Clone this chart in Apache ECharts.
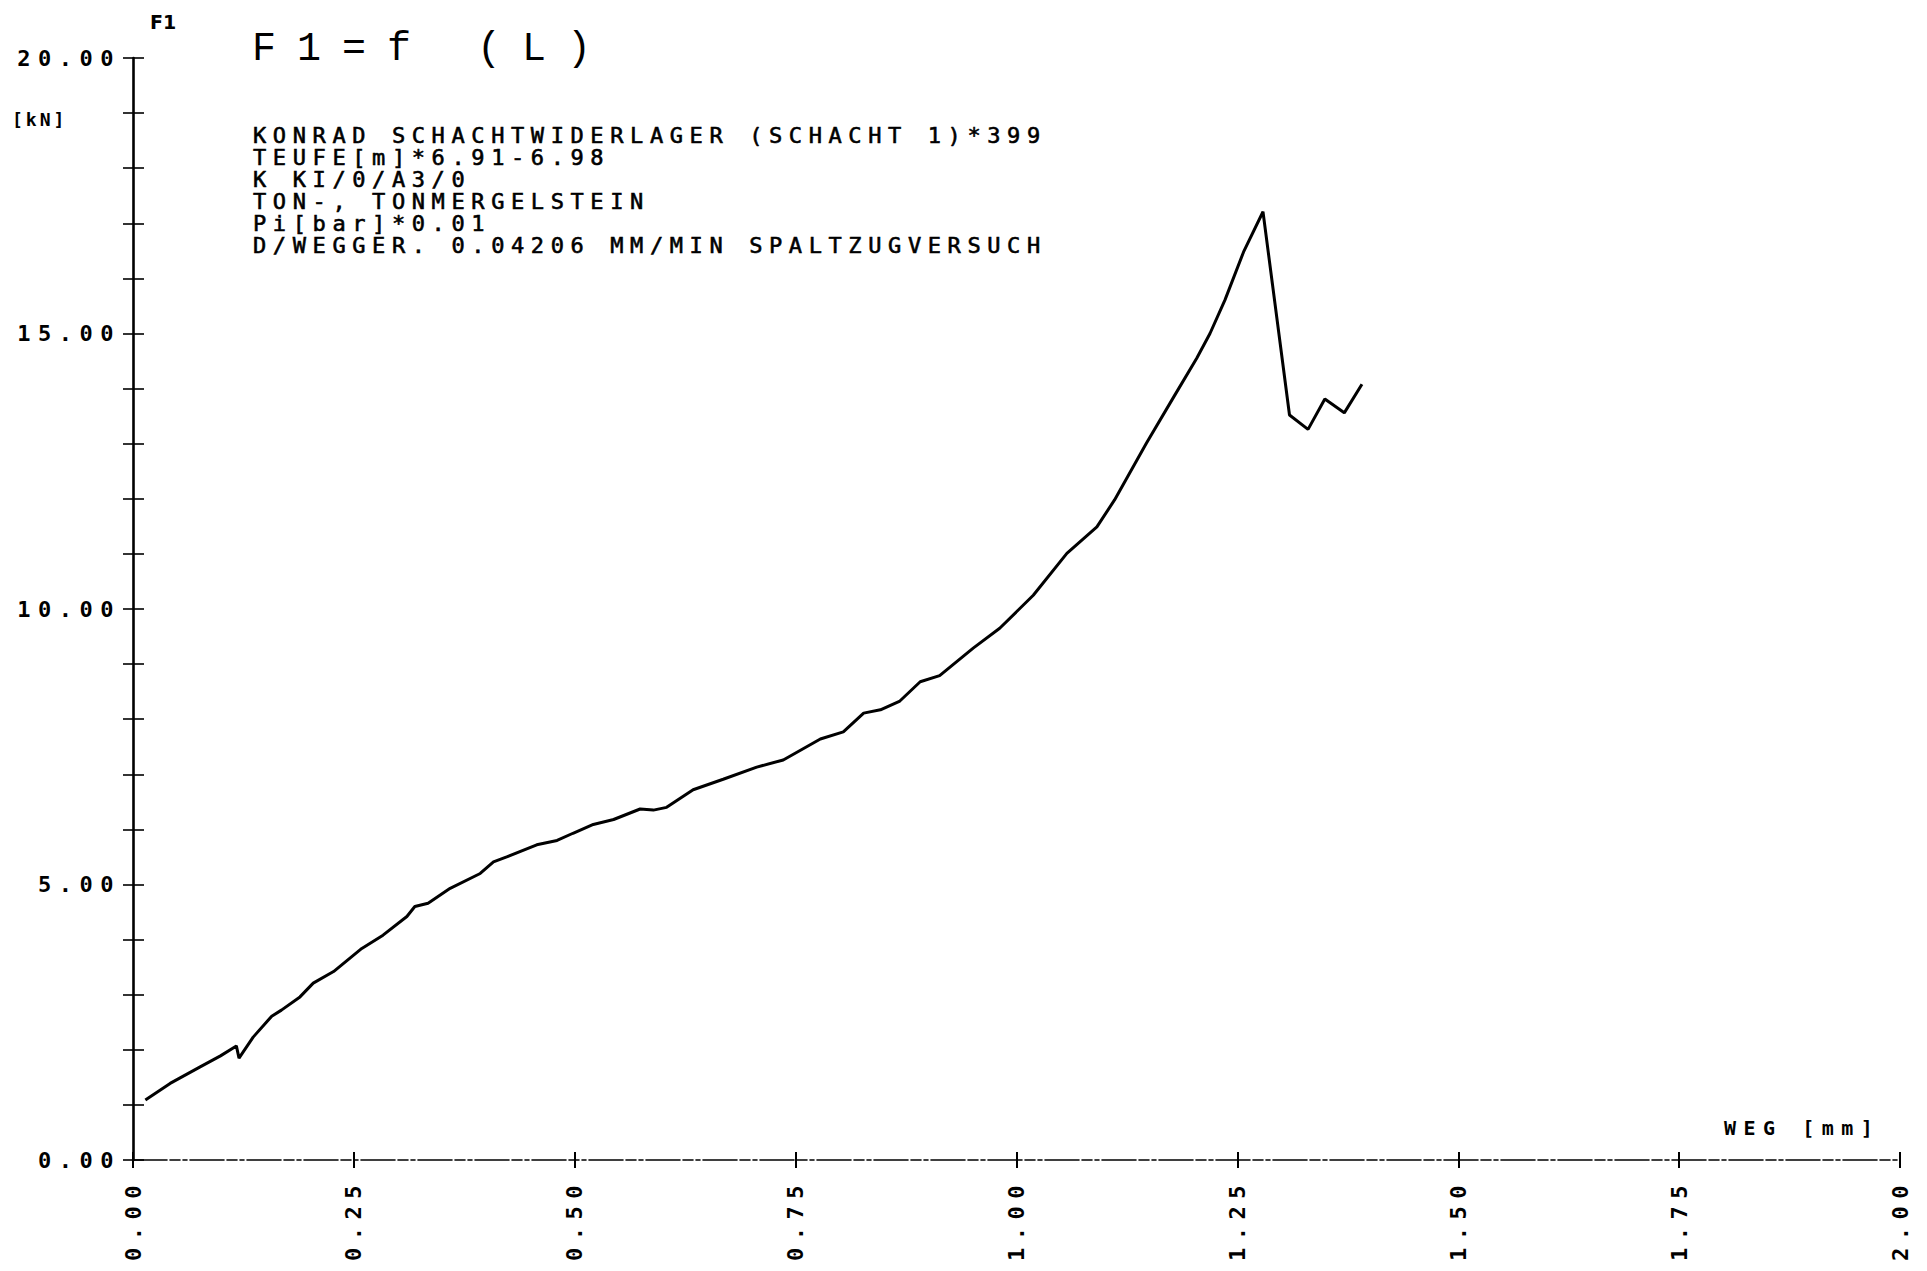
<!DOCTYPE html>
<html>
<head>
<meta charset="utf-8">
<title>F1 = f(L)</title>
<script src="https://cdn.jsdelivr.net/npm/echarts@6/dist/echarts.min.js"></script>
<style>
  html, body { margin: 0; padding: 0; background: #ffffff; }
  #chart { width: 1927px; height: 1271px; }
  /* plotter-style wide character cells, keyed on marker family names */
  #chart text[style*="DejaVu Sans Mono"] { letter-spacing: 6px; }
  #chart text[style*="axis-cells"] { letter-spacing: 7.5px; }
  #chart text[style*="info-cells"] { letter-spacing: 6.6px; }
  #chart text[style*="unit-cells"] { letter-spacing: 3px; }
  #chart text[style*="title-cells"] { letter-spacing: 21px; }
</style>
</head>
<body>
<div id="chart"></div>
<script>
// Displacement WEG [mm]
const weg = [
  0.014, 0.042, 0.076, 0.099, 0.117, 0.120, 0.136, 0.157, 0.168, 0.189,
  0.204, 0.227, 0.259, 0.283, 0.310, 0.319, 0.334, 0.359, 0.393, 0.408,
  0.423, 0.457, 0.480, 0.498, 0.521, 0.544, 0.574, 0.589, 0.604, 0.634,
  0.668, 0.706, 0.736, 0.778, 0.804, 0.827, 0.846, 0.868, 0.891, 0.913,
  0.951, 0.981, 1.019, 1.057, 1.091, 1.111, 1.147, 1.178, 1.204, 1.219,
  1.236, 1.257, 1.279, 1.309, 1.330, 1.349, 1.371, 1.391
];
// Force F1 [kN]
const force = [
  1.09, 1.39, 1.69, 1.89, 2.07, 1.85, 2.23, 2.61, 2.72, 2.96,
  3.21, 3.42, 3.84, 4.08, 4.42, 4.60, 4.66, 4.93, 5.20, 5.41,
  5.50, 5.72, 5.80, 5.93, 6.09, 6.18, 6.37, 6.35, 6.40, 6.72,
  6.91, 7.13, 7.26, 7.64, 7.77, 8.11, 8.17, 8.33, 8.68, 8.79,
  9.29, 9.65, 10.25, 11.01, 11.49, 11.98, 13.01, 13.85, 14.55, 15.00,
  15.61, 16.48, 17.21, 13.52, 13.26, 13.81, 13.56, 14.08
];

// Axis ranges and tick steps
const xRange = [0, 2];
const xStep = 0.25;
const yRange = [0, 20];
const yStep = 1;
const yLabelStep = 5;

// Header texts
const titleText = 'F1=f (L)';
const yAxisName = 'F1';
const yUnit = '[kN]';
const xAxisName = 'WEG [mm]';
const infoLines = [
  'KONRAD SCHACHTWIDERLAGER (SCHACHT 1)*399',
  'TEUFE[m]*6.91-6.98',
  'K KI/0/A3/0',
  'TON-, TONMERGELSTEIN',
  'Pi[bar]*0.01',
  'D/WEGGER. 0.04206 MM/MIN SPALTZUGVERSUCH'
];

const AXIS_FONT = '"DejaVu Sans Mono", "axis-cells", monospace';
const INFO_FONT = '"DejaVu Sans Mono", "info-cells", monospace';
const UNIT_FONT = '"DejaVu Sans Mono", "unit-cells", monospace';
const TITLE_FONT = '"Liberation Mono", "title-cells", monospace';
const INK = '#000000';

const chart = echarts.init(document.getElementById('chart'), null, { renderer: 'svg' });

const points = weg.map((x, i) => [x, force[i]]);

chart.setOption({
  animation: false,
  backgroundColor: '#ffffff',
  grid: { left: 133, right: 27, top: 58, bottom: 111 },
  xAxis: [
    {
      type: 'value', min: xRange[0], max: xRange[1], interval: xStep,
      axisLine: { show: true, onZero: false, lineStyle: { color: INK, width: 1.6, type: [34, 3, 10, 3, 4, 3] } },
      axisTick: { show: true, inside: false, length: 8, lineStyle: { color: INK, width: 2 } },
      axisLabel: {
        show: true, rotate: 90, margin: 18,
        color: INK, fontFamily: AXIS_FONT, fontWeight: 'bold', fontSize: 22,
        formatter: v => v.toFixed(2)
      },
      splitLine: { show: false }
    },
    {
      type: 'value', min: xRange[0], max: xRange[1], interval: xStep, position: 'bottom',
      axisLine: { show: false },
      axisTick: { show: true, inside: true, length: 8, lineStyle: { color: INK, width: 2 } },
      axisLabel: { show: false },
      splitLine: { show: false }
    }
  ],
  yAxis: [
    {
      type: 'value', min: yRange[0], max: yRange[1], interval: yStep,
      axisLine: { show: true, onZero: false, lineStyle: { color: INK, width: 2.6 } },
      axisTick: { show: true, inside: false, length: 10, lineStyle: { color: INK, width: 1.6 } },
      axisLabel: {
        show: true, margin: 12,
        color: INK, fontFamily: AXIS_FONT, fontWeight: 'bold', fontSize: 22,
        formatter: v => (v % yLabelStep === 0 ? v.toFixed(2) : '')
      },
      splitLine: { show: false }
    },
    {
      type: 'value', min: yRange[0], max: yRange[1], interval: yStep, position: 'left',
      axisLine: { show: false },
      axisTick: { show: true, inside: true, length: 11, lineStyle: { color: INK, width: 1.6 } },
      axisLabel: { show: false },
      splitLine: { show: false }
    }
  ],
  series: [
    {
      type: 'line',
      xAxisIndex: 0, yAxisIndex: 0,
      data: points,
      showSymbol: false,
      smooth: false,
      lineStyle: { color: INK, width: 3 },
      silent: true
    }
  ],
  graphic: [
    {
      type: 'text', x: 150, y: 22,
      style: { text: yAxisName, font: 'bold 19px "DejaVu Sans"', fill: INK, verticalAlign: 'middle' }
    },
    {
      type: 'text', x: 252, y: 49,
      style: { text: titleText, font: '40px ' + TITLE_FONT, fill: INK, verticalAlign: 'middle' }
    },
    {
      type: 'text', x: 12, y: 119,
      style: { text: yUnit, font: 'bold 18px ' + UNIT_FONT, fill: INK, verticalAlign: 'middle' }
    },
    {
      type: 'text', x: 253, y: 124,
      style: {
        text: infoLines.join('\n'), font: '22px ' + INFO_FONT, lineHeight: 22,
        fill: INK, stroke: INK, lineWidth: 0.6, verticalAlign: 'top'
      }
    },
    {
      type: 'text', x: 1724, y: 1128,
      style: { text: xAxisName, font: 'bold 20px ' + AXIS_FONT, fill: INK, verticalAlign: 'middle' }
    }
  ]
});
</script>
</body>
</html>
